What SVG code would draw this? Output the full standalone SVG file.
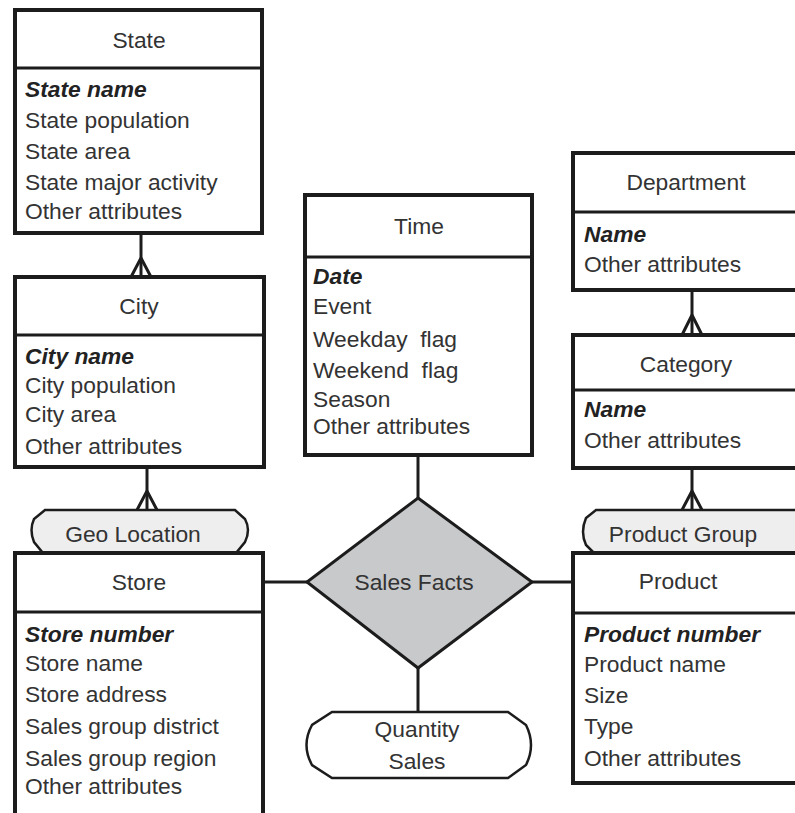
<svg xmlns="http://www.w3.org/2000/svg" width="795" height="813" viewBox="0 0 795 813">
  <style>
    .box { fill: #ffffff; stroke: #1c1c1c; stroke-width: 4; }
    .div { stroke: #1c1c1c; stroke-width: 3; fill: none; }
    .t { font-family: "Liberation Sans", Arial, sans-serif; font-size: 22.8px; fill: #333333; }
    .h { text-anchor: middle; }
    .k { font-weight: bold; font-style: italic; fill: #222222; }
    .conn { stroke: #1c1c1c; stroke-width: 3; fill: none; }
    .tag { fill: #eeeeee; stroke: #1c1c1c; stroke-width: 2.5; }
  </style>

  <!-- connectors -->
  <g id="connectors">
    <!-- State -> City (many) -->
    <line class="conn" x1="141" y1="233" x2="141" y2="277"/>
    <path class="conn" d="M141,258 L131,277 M141,258 L151,277"/>
    <!-- City -> Geo Location (many) -->
    <line class="conn" x1="147" y1="467" x2="147" y2="510"/>
    <path class="conn" d="M147,491 L137,510 M147,491 L157,510"/>
    <!-- Department -> Category (many) -->
    <line class="conn" x1="692" y1="290" x2="692" y2="335"/>
    <path class="conn" d="M692,315 L682,335 M692,315 L702,335"/>
    <!-- Category -> Product Group (many) -->
    <line class="conn" x1="692" y1="468" x2="692" y2="510"/>
    <path class="conn" d="M692,491 L682,510 M692,491 L702,510"/>
    <!-- Time -> Sales Facts -->
    <line class="conn" x1="418" y1="455" x2="418" y2="498"/>
    <!-- Store -> Sales Facts -->
    <line class="conn" stroke-width="5" x1="263" y1="582" x2="307" y2="582"/>
    <!-- Sales Facts -> Product -->
    <line class="conn" stroke-width="2" x1="532" y1="582" x2="573" y2="582"/>
    <!-- Sales Facts -> Quantity Sales -->
    <line class="conn" x1="418" y1="668" x2="418" y2="712"/>
  </g>

  <!-- State -->
  <g id="state">
    <rect class="box" x="15" y="10" width="247" height="223"/>
    <line class="div" x1="15" y1="68" x2="262" y2="68"/>
    <text class="t h" x="139" y="48">State</text>
    <text class="t k" x="25" y="97">State name</text>
    <text class="t" x="25" y="128">State population</text>
    <text class="t" x="25" y="159">State area</text>
    <text class="t" x="25" y="190">State major activity</text>
    <text class="t" x="25" y="219">Other attributes</text>
  </g>

  <!-- City -->
  <g id="city">
    <rect class="box" x="15" y="277" width="249" height="190"/>
    <line class="div" x1="15" y1="335" x2="264" y2="335"/>
    <text class="t h" x="139" y="314">City</text>
    <text class="t k" x="25" y="364">City name</text>
    <text class="t" x="25" y="393">City population</text>
    <text class="t" x="25" y="422">City area</text>
    <text class="t" x="25" y="454">Other attributes</text>
  </g>

  <!-- Geo Location -->
  <g id="geo-location">
    <path class="tag" d="M45,510 H235 L245,519 Q251,530 245,542 L236,553 H43 L34,542 Q29,530 34,519 Z"/>
    <text class="t h" x="133" y="542">Geo Location</text>
  </g>

  <!-- Store -->
  <g id="store">
    <path class="box" d="M15,820 V553 H263 V820"/>
    <line class="div" x1="15" y1="612" x2="263" y2="612"/>
    <text class="t h" x="139" y="590">Store</text>
    <text class="t k" x="25" y="642">Store number</text>
    <text class="t" x="25" y="671">Store name</text>
    <text class="t" x="25" y="702">Store address</text>
    <text class="t" x="25" y="734">Sales group district</text>
    <text class="t" x="25" y="766">Sales group region</text>
    <text class="t" x="25" y="794">Other attributes</text>
  </g>

  <!-- Time -->
  <g id="time">
    <rect class="box" x="305" y="195" width="227" height="260"/>
    <line class="div" x1="305" y1="257" x2="532" y2="257"/>
    <text class="t h" x="419" y="234">Time</text>
    <text class="t k" x="313" y="284">Date</text>
    <text class="t" x="313" y="314">Event</text>
    <text class="t" x="313" y="347" xml:space="preserve">Weekday  flag</text>
    <text class="t" x="313" y="378" xml:space="preserve">Weekend  flag</text>
    <text class="t" x="313" y="407">Season</text>
    <text class="t" x="313" y="434">Other attributes</text>
  </g>

  <!-- Sales Facts -->
  <g id="sales-facts">
    <polygon points="418,498 532,582 418,668 307,582" fill="#c8c9cb" stroke="#1c1c1c" stroke-width="3"/>
    <text class="t h" x="414" y="590">Sales Facts</text>
  </g>

  <!-- Quantity Sales -->
  <g id="quantity-sales">
    <path d="M332,712 H508 L526,725 Q536,745 526,765 L508,778 H332 L312,765 Q301,745 312,725 Z" fill="#ffffff" stroke="#1c1c1c" stroke-width="2.5"/>
    <text class="t h" x="417" y="737">Quantity</text>
    <text class="t h" x="417" y="769">Sales</text>
  </g>

  <!-- Department -->
  <g id="department">
    <path class="box" d="M800,153 H573 V290 H800"/>
    <line class="div" x1="573" y1="212" x2="800" y2="212"/>
    <text class="t h" x="686" y="190">Department</text>
    <text class="t k" x="584" y="242">Name</text>
    <text class="t" x="584" y="272">Other attributes</text>
  </g>

  <!-- Category -->
  <g id="category">
    <path class="box" d="M800,335 H573 V468 H800"/>
    <line class="div" x1="573" y1="390" x2="800" y2="390"/>
    <text class="t h" x="686" y="372">Category</text>
    <text class="t k" x="584" y="417">Name</text>
    <text class="t" x="584" y="448">Other attributes</text>
  </g>

  <!-- Product Group -->
  <g id="product-group">
    <path class="tag" d="M596,510 H800 V553 H594 L586,545 Q580,532 586,518 Z"/>
    <text class="t h" x="683" y="542">Product Group</text>
  </g>

  <!-- Product -->
  <g id="product">
    <path class="box" d="M800,553 H573 V783 H800"/>
    <line class="div" x1="573" y1="613" x2="800" y2="613"/>
    <text class="t h" x="678" y="589">Product</text>
    <text class="t k" x="584" y="642">Product number</text>
    <text class="t" x="584" y="672">Product name</text>
    <text class="t" x="584" y="703">Size</text>
    <text class="t" x="584" y="734">Type</text>
    <text class="t" x="584" y="766">Other attributes</text>
  </g>
</svg>
